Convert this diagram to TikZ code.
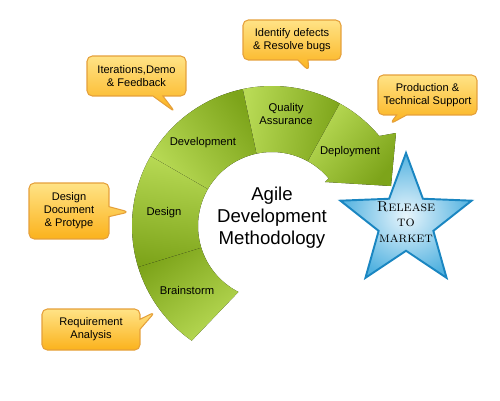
\documentclass[tikz,border=0pt]{standalone}
\usepackage{fontspec}
\newfontfamily\labelfont{Liberation Sans}
\usepackage{tikz}
\usetikzlibrary{calc, shapes.geometric, shapes.callouts}
\definecolor{leafLight}{HTML}{B8DA55}
\definecolor{leafDark}{HTML}{7DA41A}
\definecolor{noteTop}{HTML}{FFE386}
\definecolor{noteBottom}{HTML}{FBB21C}
\definecolor{noteEdge}{HTML}{E5A03A}
\definecolor{starEdge}{HTML}{1A86C1}
\definecolor{starLight}{HTML}{E8F5FC}
\definecolor{starDark}{HTML}{52B2E0}
\tikzset{
    seg/.style={top color=leafLight, bottom color=leafDark, shading angle=#1},
    stage/.style={font=\labelfont\fontsize{6.4pt}{7.4pt}\selectfont, align=center, text=black},
    note/.style={
        rectangle callout, callout absolute pointer={#1}, callout pointer width=0.2cm,
        draw=noteEdge, line width=0.6pt, rounded corners=3pt,
        top color=noteTop, bottom color=noteBottom,
        font=\labelfont\fontsize{6.3pt}{7.4pt}\selectfont, align=center, inner sep=0pt
    },
    title/.style={font=\labelfont\fontsize{10.6pt}{12.6pt}\selectfont, align=center},
    goal/.style={star, star points=5, star point ratio=2.4, minimum size=2.76cm, inner sep=0pt,
        draw=starEdge, line width=1.1pt, inner color=starLight, outer color=starDark}
}
\begin{document}
\begin{tikzpicture}[x=0.02cm, y=0.02cm]
        \useasboundingbox (0,0) rectangle (500,400);
        \def\Rout{140}
        \def\Rin{74}
        \coordinate (Hub) at (272,174);

        % Arc segments
        \fill[seg=216] ($(Hub)+(235:\Rout)$) arc[start angle=235, end angle=197, radius=\Rout]
            -- ($(Hub)+(197:\Rin)$) arc[start angle=197, end angle=243, radius=\Rin] -- cycle;
        \fill[seg=353] ($(Hub)+(197:\Rout)$) arc[start angle=197, end angle=150, radius=\Rout]
            -- ($(Hub)+(150:\Rin)$) arc[start angle=150, end angle=197, radius=\Rin] -- cycle;
        \fill[seg=126] ($(Hub)+(150:\Rout)$) arc[start angle=150, end angle=102, radius=\Rout]
            -- ($(Hub)+(102:\Rin)$) arc[start angle=102, end angle=150, radius=\Rin] -- cycle;
        \fill[seg=81] ($(Hub)+(102:\Rout)$) arc[start angle=102, end angle=61, radius=\Rout]
            -- ($(Hub)+(61:\Rin)$) arc[start angle=61, end angle=102, radius=\Rin] -- cycle;

        % Arrow head
        \coordinate (BarbUp) at (396,267);
        \coordinate (Tip) at (391,214);
        \coordinate (BarbLow) at (325,218);
        \fill[seg=50] ($(Hub)+(61:\Rout)$) arc[start angle=61, end angle=40, radius=\Rout]
            -- (BarbUp) -- (Tip) -- (BarbLow)
            -- ($(Hub)+(40:\Rin)$) arc[start angle=40, end angle=61, radius=\Rin] -- cycle;

        % Stage labels
        \node[stage] (Brainstorm) at (187,110) {Brainstorm};
        \node[stage] (Design) at (164,187) {Design};
        \node[stage] (Development) at (203,257) {Development};
        \node[stage] (Quality) at (286,286) {Quality\\Assurance};
        \node[stage] (Deployment) at (350,248) {Deployment};
        \node[title] (Title) at (272,182) {Agile\\Development\\Methodology};

        % Release star
        \node[goal] (Release) at (406,178) {};
        \node[font=\fontsize{8.2pt}{8.8pt}\selectfont\scshape, align=center] (ReleaseText) at (Release.center) {Release\\to\\market};

        % Notes
        \node[note={(175,288)}, minimum width=1.98cm, minimum height=0.8cm] (IterNote) at (136.5,324) {Iterations,Demo\\\& Feedback};
        \node[note={(309,329)}, minimum width=1.96cm, minimum height=0.8cm] (DefectNote) at (292,360) {Identify defects\\\& Resolve bugs};
        \node[note={(390,276)}, minimum width=1.98cm, minimum height=0.8cm] (SupportNote) at (427.5,305) {Production \&\\Technical Support};
        \node[note={(129,188)}, minimum width=1.6cm, minimum height=1.12cm] (DesignNote) at (69,189) {Design\\Document\\\& Protype};
        \node[note={(155,88)}, minimum width=1.96cm, minimum height=0.82cm] (ReqNote) at (91,70.5) {Requirement\\Analysis};

    \end{tikzpicture}
\end{document}
